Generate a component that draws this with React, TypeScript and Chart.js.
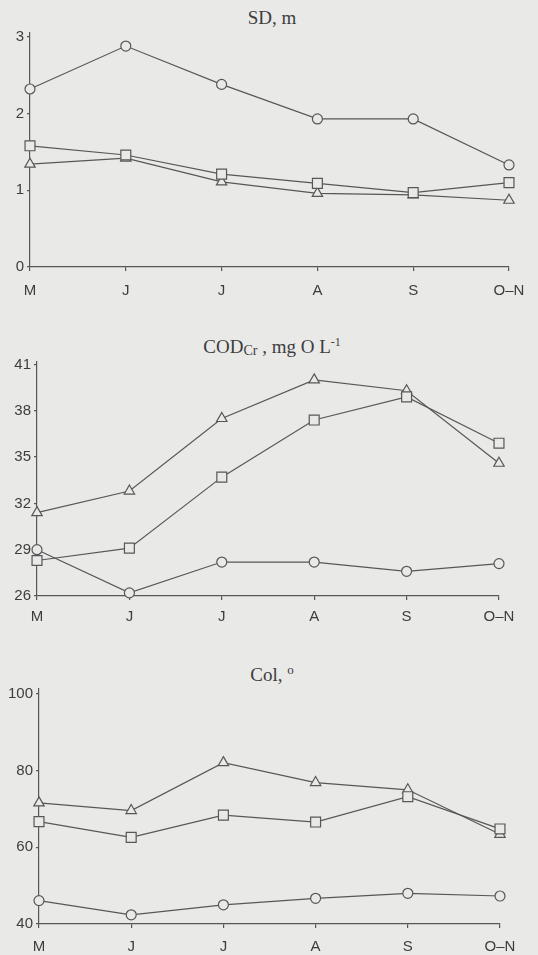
import React, { useEffect, useRef } from "react";
import { Chart, registerables } from "chart.js";

Chart.register(...registerables);

const months = ["M", "J", "J", "A", "S", "O–N"];

const sdCircle = [2.32, 2.88, 2.38, 1.93, 1.93, 1.33];
const sdSquare = [1.58, 1.46, 1.21, 1.09, 0.97, 1.1];
const sdTriangle = [1.34, 1.42, 1.11, 0.96, 0.94, 0.87];
const sdTicks = [0, 1, 2, 3];

const codCircle = [29.0, 26.2, 28.2, 28.2, 27.6, 28.1];
const codSquare = [28.3, 29.1, 33.7, 37.4, 38.9, 35.9];
const codTriangle = [31.4, 32.8, 37.5, 40.0, 39.3, 34.6];
const codTicks = [26, 29, 32, 35, 38, 41];

const colCircle = [46.1, 42.4, 45.0, 46.7, 48.0, 47.3];
const colSquare = [66.7, 62.6, 68.4, 66.6, 73.2, 64.8];
const colTriangle = [71.6, 69.6, 82.1, 76.9, 75.0, 63.4];
const colTicks = [40, 60, 80, 100];

const W = 538;
const PAPER = "#e9e9e8";
const INK = "#575757";
const TEXT = "#3d3d3d";

type PanelProps = {
  top: number;
  height: number;
  areaLeft: number;
  areaRight: number;
  areaTop: number;
  areaBottom: number;
  circle: number[];
  square: number[];
  triangle: number[];
  ticks: number[];
  extra: number;
  xPad: number;
};

function mk(data: number[], style: string, r: number) {
  return {
    data,
    pointStyle: style,
    pointRadius: r,
    pointHoverRadius: r,
    pointBorderWidth: 1.2,
    pointBorderColor: INK,
    pointBackgroundColor: PAPER,
    borderColor: INK,
    borderWidth: 1.2,
    backgroundColor: PAPER,
    fill: false,
    tension: 0,
    clip: false as any,
  };
}

function Panel(p: PanelProps) {
  const ref = useRef<HTMLCanvasElement>(null);
  useEffect(() => {
    const canvas = ref.current!;
    const tickFont = { family: "'Liberation Sans', Arial, sans-serif", size: 15 };
    const chart = new Chart(canvas, {
      type: "line",
      data: {
        labels: months,
        datasets: [
          mk(p.circle, "circle", 5),
          mk(p.square, "rect", 7),
          mk(p.triangle, "triangle", 6),
        ] as any,
      },
      options: {
        responsive: false,
        animation: false,
        events: [],
        layout: { padding: { top: p.areaTop, left: 0, right: W - p.areaRight, bottom: 0 } },
        plugins: {
          legend: { display: false },
          tooltip: { enabled: false },
          title: { display: false },
        },
        scales: {
          x: {
            type: "category",
            offset: false,
            grid: {
              display: true,
              drawOnChartArea: false,
              drawTicks: true,
              tickLength: 4,
              color: INK,
              lineWidth: 1.2,
            },
            border: { display: true, color: INK, width: 1.2 },
            ticks: {
              color: TEXT,
              font: tickFont,
              padding: p.xPad,
              autoSkip: false,
              maxRotation: 0,
            },
            afterFit: (s: any) => {
              s.height = p.height - p.areaBottom;
            },
          },
          y: {
            type: "linear",
            min: p.ticks[0],
            max: p.ticks[p.ticks.length - 1] + p.extra,
            afterBuildTicks: (s: any) => {
              s.ticks = p.ticks.map((v) => ({ value: v }));
            },
            grid: {
              display: true,
              drawOnChartArea: false,
              drawTicks: true,
              tickLength: 3,
              color: INK,
              lineWidth: 1.2,
            },
            border: { display: true, color: INK, width: 1.2 },
            ticks: {
              color: TEXT,
              font: tickFont,
              padding: 3,
            },
            afterFit: (s: any) => {
              s.width = p.areaLeft;
            },
          },
        },
      },
    });
    return () => chart.destroy();
  }, []);
  return (
    <canvas
      ref={ref}
      width={W}
      height={p.height}
      style={{ position: "absolute", left: 0, top: p.top, width: W, height: p.height }}
    />
  );
}

const titleStyle = (centerY: number): React.CSSProperties => ({
  position: "absolute",
  left: 0,
  width: 544,
  top: centerY - 11,
  height: 22,
  lineHeight: "22px",
  textAlign: "center",
  fontFamily: "'Liberation Serif', 'Times New Roman', serif",
  fontSize: 19,
  color: TEXT,
  whiteSpace: "nowrap",
});

export default function App() {
  return (
    <div
      style={{
        position: "absolute",
        left: 0,
        top: 0,
        width: W,
        height: 955,
        background: PAPER,
        overflow: "hidden",
      }}
    >
      <div style={titleStyle(18)}>SD, m</div>
      <Panel
        top={0}
        height={310}
        areaLeft={30}
        areaRight={509}
        areaTop={33}
        areaBottom={267}
        circle={sdCircle}
        square={sdSquare}
        triangle={sdTriangle}
        ticks={sdTicks}
        extra={0.05}
        xPad={11}
      />
      <div style={titleStyle(342)}>
        COD<sub style={{ fontSize: 14, verticalAlign: "-2px" }}>Cr</sub> , mg O L
        <sup style={{ fontSize: 12, verticalAlign: "7px" }}>-1</sup>
      </div>
      <Panel
        top={310}
        height={320}
        areaLeft={37}
        areaRight={499}
        areaTop={52}
        areaBottom={286}
        circle={codCircle}
        square={codSquare}
        triangle={codTriangle}
        ticks={codTicks}
        extra={0.16}
        xPad={8}
      />
      <div style={titleStyle(670)}>
        Col, <sup style={{ fontSize: 13, verticalAlign: "7px" }}>o</sup>
      </div>
      <Panel
        top={630}
        height={325}
        areaLeft={39}
        areaRight={500}
        areaTop={59}
        areaBottom={294}
        circle={colCircle}
        square={colSquare}
        triangle={colTriangle}
        ticks={colTicks}
        extra={1.3}
        xPad={10}
      />
    </div>
  );
}
